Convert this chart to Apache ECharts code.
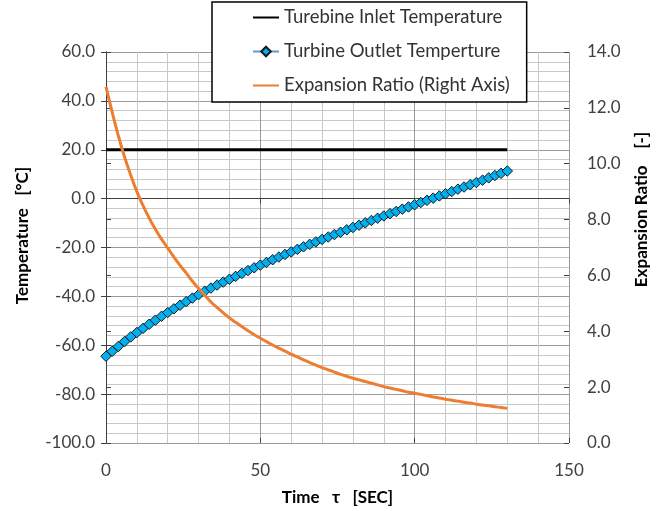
<!DOCTYPE html>
<html>
<head>
<meta charset="utf-8">
<script src="https://cdn.jsdelivr.net/npm/echarts@6/dist/echarts.min.js"></script>
<style>
html,body{margin:0;padding:0;background:#fff;}
#chart{width:668px;height:511px;}
</style>
</head>
<body>
<div id="chart"></div>
<script>
// ---- data ----
const timeSec = [0,2,4,6,8,10,12,14,16,18,20,22,24,26,28,30,32,34,36,38,40,42,44,46,48,50,52,54,56,58,60,62,64,66,68,70,72,74,76,78,80,82,84,86,88,90,92,94,96,98,100,102,104,106,108,110,112,114,116,118,120,122,124,126,128,130];
const outletTemp = [-64.5,-62.5,-60.5,-58.5,-56.6,-54.8,-53.1,-51.4,-49.75,-48.15,-46.6,-45.1,-43.6,-42.15,-40.7,-39.3,-37.9,-36.6,-35.35,-34.15,-33.0,-31.8,-30.6,-29.45,-28.3,-27.2,-26.1,-25.0,-23.9,-22.85,-21.8,-20.75,-19.7,-18.7,-17.7,-16.7,-15.7,-14.7,-13.75,-12.75,-11.8,-10.85,-9.9,-8.95,-8.0,-7.1,-6.15,-5.25,-4.3,-3.4,-2.5,-1.6,-0.7,0.2,1.1,2.0,2.9,3.85,4.75,5.7,6.6,7.55,8.5,9.45,10.35,11.3];
const expansionRatio = [12.75,11.85,11.0,10.25,9.6,9.0,8.5,8.05,7.65,7.3,6.98,6.66,6.36,6.08,5.79,5.53,5.29,5.05,4.85,4.66,4.48,4.32,4.17,4.02,3.88,3.75,3.63,3.51,3.4,3.29,3.18,3.08,2.98,2.88,2.79,2.70,2.62,2.54,2.46,2.39,2.32,2.26,2.2,2.14,2.08,2.02,1.97,1.92,1.87,1.82,1.78,1.74,1.69,1.65,1.61,1.57,1.53,1.5,1.46,1.43,1.39,1.36,1.33,1.3,1.27,1.24];
const inletTime = [0, 130];
const inletTemp = [20, 20];
const seriesNames = ['Turebine Inlet Temperature', 'Turbine Outlet Temperture', 'Expansion Ratio (Right Axis)'];
const xTitle = 'Time   τ   [SEC]';
const yLeftTitle = 'Temperature   [°C]';
const yRightTitle = 'Expansion Ratio    [-]';

const FONT = 'Lato';
const axisColor = '#404040';
const labelColor = '#404040';

function pairs(xs, ys){ return xs.map((x,i)=>[x, ys[i]]); }

const chart = echarts.init(document.getElementById('chart'), null, {renderer:'canvas'});
const option = {
  animation: false,
  backgroundColor: '#fff',
  textStyle: {fontFamily: FONT},
  grid: {left: 106, right: 99, top: 52, bottom: 68, containLabel: false},
  legend: {
    orient: 'vertical',
    left: 212, top: 2,
    padding: [6, 17, 7, 40],
    itemGap: 15,
    itemWidth: 26, itemHeight: 12,
    backgroundColor: '#fff',
    borderColor: '#000', borderWidth: 1.5,
    textStyle: {fontFamily: FONT, fontSize: 18.5, color: '#333'},
    data: [
      {name: seriesNames[0], itemStyle: {opacity: 0}},
      {name: seriesNames[1]},
      {name: seriesNames[2], itemStyle: {opacity: 0}}
    ]
  },
  xAxis: [{
    type: 'value', min: 0, max: 150, interval: 50,
    name: xTitle, nameLocation: 'middle', nameGap: 46,
    nameTextStyle: {fontFamily: FONT, fontSize: 17, fontWeight: 'bold', color: '#000'},
    axisLine: {show: true, lineStyle: {color: axisColor, width: 1}},
    axisTick: {show: true, inside: false, length: 5, lineStyle: {color: axisColor}},
    axisLabel: {fontFamily: FONT, fontSize: 17, color: labelColor, margin: 19},
    splitLine: {show: true, lineStyle: {color: '#9a9a9a', width: 1}},
    minorTick: {show: false, splitNumber: 5},
    minorSplitLine: {show: true, lineStyle: {color: '#c8c8c8', width: 1}}
  },{
    type: 'value', min: 0, max: 150, interval: 50, position: 'bottom',
    axisLine: {show: false},
    axisTick: {show: true, inside: true, length: 5, lineStyle: {color: axisColor}},
    axisLabel: {show: false},
    splitLine: {show: false}
  }],
  yAxis: [{
    type: 'value', min: -100, max: 60, interval: 20, position: 'left',
    name: yLeftTitle, nameLocation: 'middle', nameGap: 75, nameRotate: 90,
    nameTextStyle: {fontFamily: FONT, fontSize: 17, fontWeight: 'bold', color: '#000',
      padding: [0, 0, 0, 24]},
    axisLine: {show: true, lineStyle: {color: axisColor, width: 1}},
    axisTick: {show: true, inside: false, length: 5, lineStyle: {color: axisColor}},
    axisLabel: {fontFamily: FONT, fontSize: 17, color: labelColor, margin: 11,
      formatter: v => v.toFixed(1)},
    splitLine: {show: true, lineStyle: {color: '#9a9a9a', width: 1}},
    minorTick: {show: false, splitNumber: 5},
    minorSplitLine: {show: true, lineStyle: {color: '#c8c8c8', width: 1}}
  },{
    type: 'value', min: 0, max: 14, interval: 2, position: 'right',
    name: yRightTitle, nameLocation: 'middle', nameGap: 64, nameRotate: 90,
    nameTextStyle: {fontFamily: FONT, fontSize: 17, fontWeight: 'bold', color: '#000',
      padding: [0, 0, 0, 76]},
    axisLine: {show: true, lineStyle: {color: axisColor, width: 1}},
    axisTick: {show: true, inside: false, length: 5, lineStyle: {color: axisColor}},
    axisLabel: {fontFamily: FONT, fontSize: 17, color: labelColor, margin: 18,
      formatter: v => v.toFixed(1)},
    splitLine: {show: false}
  },{
    type: 'value', min: -100, max: 60, interval: 20, position: 'left',
    axisLine: {show: false},
    axisTick: {show: true, inside: true, length: 5, lineStyle: {color: axisColor}},
    axisLabel: {show: false}, splitLine: {show: false}
  },{
    type: 'value', min: 0, max: 14, interval: 2, position: 'right',
    axisLine: {show: false},
    axisTick: {show: true, inside: true, length: 5, lineStyle: {color: axisColor}},
    axisLabel: {show: false}, splitLine: {show: false}
  }],
  series: [{
    name: seriesNames[0], type: 'line', xAxisIndex: 0, yAxisIndex: 0,
    data: pairs(inletTime, inletTemp),
    symbol: 'none', showSymbol: false,
    lineStyle: {color: '#000', width: 3}, itemStyle: {color: '#000'},
    z: 3
  },{
    name: seriesNames[1], type: 'line', xAxisIndex: 0, yAxisIndex: 0,
    data: pairs(timeSec, outletTemp),
    symbol: 'diamond', symbolSize: 10.5, showAllSymbol: true,
    lineStyle: {color: '#5b9bd5', width: 2.5},
    itemStyle: {color: '#00b0f0', borderColor: '#1a1a1a', borderWidth: 1},
    z: 4
  },{
    name: seriesNames[2], type: 'line', xAxisIndex: 0, yAxisIndex: 1,
    data: pairs(timeSec, expansionRatio),
    symbol: 'none', showSymbol: false, smooth: true,
    lineStyle: {color: '#ed7d31', width: 3}, itemStyle: {color: '#ed7d31'},
    z: 5
  }]
};
chart.setOption(option);
</script>
</body>
</html>
